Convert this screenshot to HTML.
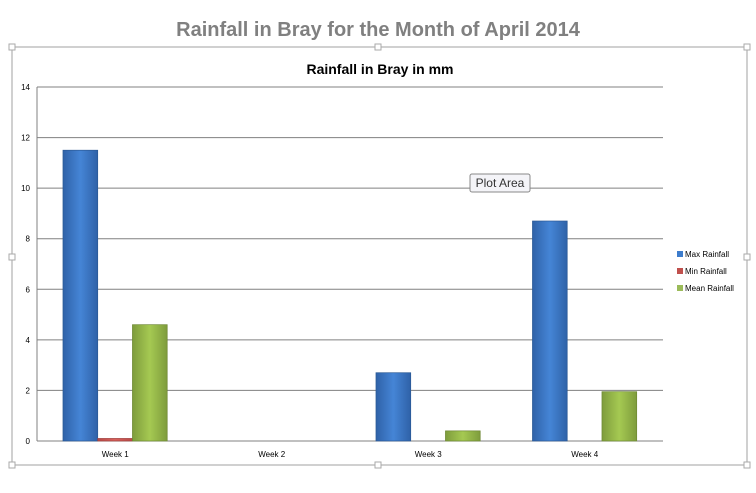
<!DOCTYPE html>
<html><head><meta charset="utf-8"><style>
body{margin:0;background:#fff;font-family:"Liberation Sans",sans-serif}
</style></head><body>
<svg width="756" height="488" xmlns="http://www.w3.org/2000/svg" font-family="Liberation Sans, sans-serif">
<text x="378" y="36" text-anchor="middle" font-size="20" font-weight="bold" fill="#808080">Rainfall in Bray for the Month of April 2014</text>
<rect x="12" y="47" width="735" height="418" fill="none" stroke="#d0d0d0" stroke-width="2"/>
<g fill="#fff" stroke="#aaa">
<rect x="9" y="44" width="6" height="6"/><rect x="375" y="44" width="6" height="6"/><rect x="744" y="44" width="6" height="6"/>
<rect x="9" y="254" width="6" height="6"/><rect x="744" y="254" width="6" height="6"/>
<rect x="9" y="462" width="6" height="6"/><rect x="375" y="462" width="6" height="6"/><rect x="744" y="462" width="6" height="6"/>
</g>
<text x="380" y="74" text-anchor="middle" font-size="14" font-weight="bold" fill="#000">Rainfall in Bray in mm</text>
<g id="grid"></g><g id="bars"></g><g id="labels"></g>
<line x1="37" y1="87" x2="37" y2="441" stroke="#808080"/>
<g>
<rect x="470" y="174" width="60" height="18" rx="2" fill="#f4f4f8" stroke="#888"/>
<text x="500" y="187" text-anchor="middle" font-size="12" fill="#333">Plot Area</text></g>
<g font-size="8" fill="#000">
<g><rect x="677" y="251" width="6" height="6" fill="#3d7ccc"/><text x="685" y="257">Max Rainfall</text></g>
<g><rect x="677" y="268" width="6" height="6" fill="#c0504d"/><text x="685" y="274">Min Rainfall</text></g>
<g><rect x="677" y="285" width="6" height="6" fill="#9bbb59"/><text x="685" y="291">Mean Rainfall</text></g>
</g>
<defs>
<linearGradient id="gb" x1="0" x2="1"><stop offset="0" stop-color="#2f62a8"/><stop offset="0.5" stop-color="#4585d6"/><stop offset="1" stop-color="#2f62a8"/></linearGradient>
<linearGradient id="gr" x1="0" x2="1"><stop offset="0" stop-color="#b84a47"/><stop offset="0.5" stop-color="#d9605c"/><stop offset="1" stop-color="#b84a47"/></linearGradient>
<linearGradient id="gg" x1="0" x2="1"><stop offset="0" stop-color="#7e9c3c"/><stop offset="0.5" stop-color="#a5c952"/><stop offset="1" stop-color="#7e9c3c"/></linearGradient>
</defs>
</svg>
<script>
const categories=["Week 1","Week 2","Week 3","Week 4"];
const maxRain=[11.5,0,2.7,8.7];
const minRain=[0.1,0,0,0];
const meanRain=[4.6,0,0.4,1.95];
const yTicks=[0,2,4,6,8,10,12,14];
const NS="http://www.w3.org/2000/svg";
const X0=37,X1=663,Y0=441,Y1=87,YMAX=14;
const y=v=>Y0-(v/YMAX)*(Y0-Y1);
const cw=(X1-X0)/categories.length;
const x=i=>X0+i*cw;
const grid=document.getElementById('grid'),bars=document.getElementById('bars'),labels=document.getElementById('labels');
function mk(tag,a,p){const e=document.createElementNS(NS,tag);for(const k in a)e.setAttribute(k,a[k]);p.appendChild(e);return e;}
yTicks.forEach(t=>{
 const l=mk('line',{x1:X0,x2:X1,y1:y(t),y2:y(t),stroke:'#808080'},grid);
 
 
 const tx=mk('text',{x:30,y:y(t)+3,'text-anchor':'end','font-size':8,fill:'#000'},labels);
 tx.textContent=t;
 
 
});
const series=[[maxRain,'url(#gb)','#2a5894','max'],[minRain,'url(#gr)','#a0403d','min'],[meanRain,'url(#gg)','#6d8833','mean']];
const bw=cw*0.222, off=cw*0.166;
categories.forEach((c,i)=>{
 series.forEach((s,j)=>{
  const v=s[0][i]; if(v<=0) return;
  const r=mk('rect',{x:x(i)+off+j*bw,y:y(v),width:bw,height:Y0-y(v),fill:s[1],stroke:s[2],'stroke-width':0.7},bars);
  
  
 });
 const t=mk('text',{x:x(i)+cw/2,y:457,'text-anchor':'middle','font-size':8,fill:'#000'},labels);
 t.textContent=c;
 
 
});
</script>
</body></html>
